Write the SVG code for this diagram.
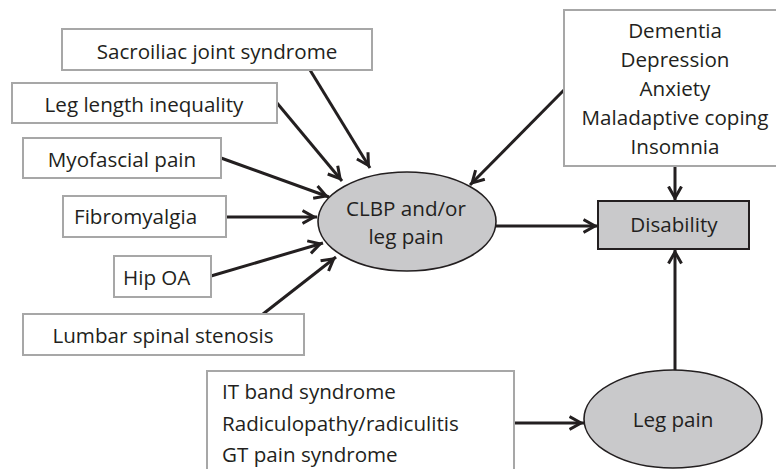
<svg xmlns="http://www.w3.org/2000/svg" width="776" height="469" viewBox="0 0 776 469">
  <style>
    text { font-family: "Open Sans", "Liberation Sans", sans-serif; font-size: 20.6px; fill: #231f20; }
    .box { fill: #ffffff; stroke: #a7a7a7; stroke-width: 2; }
    .mid { text-anchor: middle; }
    .oval { fill: #c9c9cb; stroke: #231f20; stroke-width: 1.6; }
    .out { fill: #c9c9cb; stroke: #231f20; stroke-width: 2; }
    .link { stroke: #231f20; stroke-width: 3; fill: none; marker-end: url(#head); }
  </style>
  <defs>
    <marker id="head" viewBox="0 0 18 18" refX="15.5" refY="9" markerWidth="18" markerHeight="18" markerUnits="userSpaceOnUse" orient="auto">
      <path d="M1,2.5 L12.5,9 L1,15.5" fill="none" stroke="#231f20" stroke-width="3" stroke-linejoin="miter"/>
    </marker>
  </defs>

  <rect width="776" height="469" fill="#ffffff"/>

  <!-- connectors -->
  <g id="connectors">
    <line class="link" x1="310" y1="70" x2="370" y2="168"/>
    <line class="link" x1="277" y1="103" x2="342" y2="181"/>
    <line class="link" x1="221" y1="158" x2="329" y2="197"/>
    <line class="link" x1="226" y1="217" x2="317" y2="217"/>
    <line class="link" x1="211" y1="276" x2="323" y2="243"/>
    <line class="link" x1="263" y1="314" x2="336" y2="257"/>
    <line class="link" x1="564" y1="90" x2="470" y2="185"/>
    <line class="link" x1="496" y1="226" x2="598" y2="226"/>
    <line class="link" x1="675" y1="166" x2="675" y2="201"/>
    <line class="link" x1="675" y1="370" x2="675" y2="249"/>
    <line class="link" x1="514" y1="423" x2="584" y2="423"/>
  </g>

  <!-- contributing conditions -->
  <g id="sacroiliac">
    <rect class="box" x="62" y="29" width="310" height="41"/>
    <text class="mid" x="217" y="59">Sacroiliac joint syndrome</text>
  </g>
  <g id="leg-length">
    <rect class="box" x="12" y="83" width="265" height="40"/>
    <text class="mid" x="144" y="112">Leg length inequality</text>
  </g>
  <g id="myofascial">
    <rect class="box" x="23" y="138" width="198" height="40"/>
    <text class="mid" x="122" y="167">Myofascial pain</text>
  </g>
  <g id="fibromyalgia">
    <rect class="box" x="63" y="196" width="163" height="41"/>
    <text x="74" y="224">Fibromyalgia</text>
  </g>
  <g id="hip-oa">
    <rect class="box" x="114" y="256" width="97" height="41"/>
    <text x="123" y="285">Hip OA</text>
  </g>
  <g id="stenosis">
    <rect class="box" x="23" y="314" width="281" height="41"/>
    <text class="mid" x="163" y="343">Lumbar spinal stenosis</text>
  </g>

  <!-- psychosocial factors -->
  <g id="psychosocial">
    <rect class="box" x="564" y="10" width="220" height="156"/>
    <text class="mid" x="675" y="38">Dementia</text>
    <text class="mid" x="675" y="67">Depression</text>
    <text class="mid" x="675" y="96">Anxiety</text>
    <text class="mid" x="675" y="125">Maladaptive coping</text>
    <text class="mid" x="675" y="154">Insomnia</text>
  </g>

  <!-- leg pain causes -->
  <g id="leg-causes">
    <rect class="box" x="207" y="371" width="307" height="110"/>
    <text x="222" y="399">IT band syndrome</text>
    <text x="222" y="431">Radiculopathy/radiculitis</text>
    <text x="222" y="462">GT pain syndrome</text>
  </g>

  <!-- central outcomes -->
  <g id="clbp">
    <ellipse class="oval" cx="407" cy="221.5" rx="89" ry="49.5"/>
    <text class="mid" x="406" y="216">CLBP and/or</text>
    <text class="mid" x="406" y="244">leg pain</text>
  </g>
  <g id="leg-pain">
    <ellipse class="oval" cx="673" cy="419" rx="89" ry="49"/>
    <text class="mid" x="673" y="427">Leg pain</text>
  </g>
  <g id="disability">
    <rect class="out" x="598" y="201" width="151" height="48"/>
    <text class="mid" x="674" y="232">Disability</text>
  </g>
</svg>
